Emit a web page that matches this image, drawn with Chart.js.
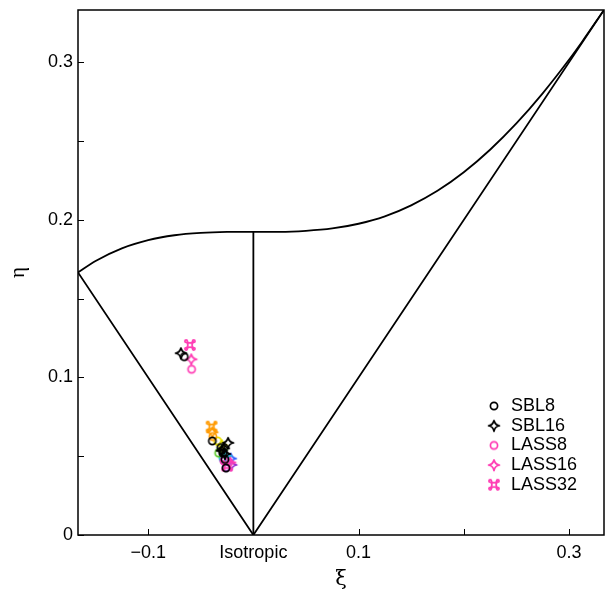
<!DOCTYPE html>
<html>
<head>
<meta charset="utf-8">
<script src="https://cdn.jsdelivr.net/npm/chart.js@4/dist/chart.umd.min.js"></script>
<style>
  html, body { margin: 0; padding: 0; background: #fff; }
  #wrap { width: 605px; height: 594px; }
</style>
</head>
<body>
<div id="wrap"><canvas id="lumley" width="605" height="594"></canvas></div>
<script>
// Anisotropy invariant map (xi, eta) with Lumley triangle boundaries.

const xiTicks = [-0.1, 0, 0.1, 0.2, 0.3];
const xiTickLabels = ['\u22120.1', 'Isotropic', '0.1', '', '0.3'];
const etaTicks = [0, 0.05, 0.1, 0.15, 0.2, 0.25, 0.3];
const etaTickLabels = ['0', '', '0.1', '', '0.2', '', '0.3'];

// two-component limit curve
const limitXi = [-0.1667, -0.15, -0.125, -0.1, -0.075, -0.05, -0.025, 0, 0.025, 0.05, 0.075,
  0.1, 0.125, 0.15, 0.175, 0.2, 0.225, 0.25, 0.275, 0.3, 0.3125, 0.3333];
const limitEta = [0.1667, 0.1740, 0.1820, 0.1872, 0.1903, 0.1918, 0.1924, 0.1925, 0.1925, 0.1931, 0.1946,
  0.1976, 0.2023, 0.2093, 0.2185, 0.2303, 0.2446, 0.2613, 0.2804, 0.3017, 0.3132, 0.3333];
// axisymmetric contraction / expansion edges
const axiXi = [-0.1667, 0, 0.3333];
const axiEta = [0.1667, 0, 0.3333];
// isotropic point up to the two-component limit
const isoXi = [0, 0];
const isoEta = [0, 0.1925];

// legend cases
const sbl8Xi = [-0.0657, -0.0390, -0.0310, -0.0290, -0.0270, -0.0260];
const sbl8Eta = [0.1132, 0.0597, 0.0555, 0.0520, 0.0480, 0.0425];
const sbl16Xi = [-0.0689, -0.0240, -0.0280, -0.0270, -0.0300];
const sbl16Eta = [0.1154, 0.0585, 0.0550, 0.0515, 0.0535];
const lass8Xi = [-0.0587, -0.0280];
const lass8Eta = [0.1052, 0.0470];
const lass16Xi = [-0.0590, -0.0220];
const lass16Eta = [0.1115, 0.0460];
const lass32Xi = [-0.0603, -0.0250];
const lass32Eta = [0.1206, 0.0440];

// extra levels (not in legend)
const orangeXi = [-0.0397, -0.0390, -0.0385];
const orangeEta = [0.0688, 0.0652, 0.0625];
const orangeMarks = ['cross', 'star', 'circle'];
const yellowXi = [-0.0340, -0.0300];
const yellowEta = [0.0597, 0.0570];
const greenXi = [-0.0330, -0.0300];
const greenEta = [0.0520, 0.0540];
const cyanXi = [-0.0290, -0.0260];
const cyanEta = [0.0490, 0.0500];
const blueXi = [-0.0280, -0.0215];
const blueEta = [0.0475, 0.0485];
const purpleXi = [-0.0260, -0.0210];
const purpleEta = [0.0430, 0.0445];
const pairMarks = ['circle', 'star'];

const PINK = '#ff3cb4';
const SANS = '"Liberation Sans", Arial, Helvetica, sans-serif';

function makeSprite(shape, color) {
  const S = 18, m = S / 2;
  const c = document.createElement('canvas');
  c.width = c.height = S;
  const g = c.getContext('2d');
  g.strokeStyle = color;
  g.lineWidth = 1.7;
  g.lineJoin = 'round';
  g.beginPath();
  if (shape === 'circle') {
    g.arc(m, m, 3.6, 0, 2 * Math.PI);
  } else if (shape === 'star') {
    const r = 5.5, k = 0.8;
    g.moveTo(m, m - r);
    g.quadraticCurveTo(m + k, m - k, m + r, m);
    g.quadraticCurveTo(m + k, m + k, m, m + r);
    g.quadraticCurveTo(m - k, m + k, m - r, m);
    g.quadraticCurveTo(m - k, m - k, m, m - r);
  } else {
    const s = 3.2;
    g.moveTo(m - s, m - s);
    g.quadraticCurveTo(m, m - 1, m + s, m - s);
    g.quadraticCurveTo(m + 1, m, m + s, m + s);
    g.quadraticCurveTo(m, m + 1, m - s, m + s);
    g.quadraticCurveTo(m - 1, m, m - s, m - s);
    g.stroke();
    g.beginPath();
    [[-1, -1], [1, -1], [1, 1], [-1, 1]].forEach(([dx, dy]) => {
      g.moveTo(m + dx * (s + 0.6) + 1.3, m + dy * (s + 0.6));
      g.arc(m + dx * (s + 0.6), m + dy * (s + 0.6), 1.3, 0, 2 * Math.PI);
    });
  }
  g.stroke();
  return c;
}

function pts(xs, ys) {
  return xs.map((x, i) => ({ x, y: ys[i] }));
}

function markerSet(label, xs, ys, shape, color, inLegend) {
  const shapes = Array.isArray(shape) ? shape : xs.map(() => shape);
  return {
    label,
    data: pts(xs, ys),
    showLine: false,
    pointStyle: shapes.map((s) => makeSprite(s, color)),
    legendSprite: makeSprite(shapes[0], color),
    inLegend,
    pointRadius: 5
  };
}

function lineSet(label, xs, ys, smooth) {
  return {
    label,
    data: pts(xs, ys),
    showLine: true,
    borderColor: '#000',
    borderWidth: 1.8,
    pointRadius: 0,
    cubicInterpolationMode: smooth ? 'monotone' : 'default',
    inLegend: false
  };
}

const datasets = [
  markerSet('SBL8', sbl8Xi, sbl8Eta, 'circle', '#000', true),
  markerSet('SBL16', sbl16Xi, sbl16Eta, 'star', '#000', true),
  markerSet('LASS8', lass8Xi, lass8Eta, 'circle', PINK, true),
  markerSet('LASS16', lass16Xi, lass16Eta, 'star', PINK, true),
  markerSet('LASS32', lass32Xi, lass32Eta, 'cross', PINK, true),
  markerSet('orange', orangeXi, orangeEta, orangeMarks, '#ff9a00', false),
  markerSet('yellow', yellowXi, yellowEta, pairMarks, '#e8e000', false),
  markerSet('green', greenXi, greenEta, pairMarks, '#5ccc2a', false),
  markerSet('cyan', cyanXi, cyanEta, pairMarks, '#22c4d8', false),
  markerSet('blue', blueXi, blueEta, pairMarks, '#3060ff', false),
  markerSet('purple', purpleXi, purpleEta, pairMarks, '#9a2fd0', false),
  lineSet('limit', limitXi, limitEta, true),
  lineSet('axi', axiXi, axiEta, false),
  lineSet('iso', isoXi, isoEta, false)
];

// box frame, inward ticks and the inset legend
const framePlugin = {
  id: 'frame',
  afterDatasetsDraw(chart) {
    const { ctx, chartArea: a, scales } = chart;
    ctx.save();
    ctx.strokeStyle = '#000';
    ctx.lineWidth = 1.5;
    ctx.strokeRect(a.left, a.top, a.right - a.left, a.bottom - a.top);
    ctx.beginPath();
    xiTicks.forEach((v) => {
      const px = Math.round(scales.x.getPixelForValue(v)) + 0.5;
      ctx.moveTo(px, a.bottom);
      ctx.lineTo(px, a.bottom - 6);
    });
    etaTicks.forEach((v) => {
      const py = Math.round(scales.y.getPixelForValue(v)) + 0.5;
      ctx.moveTo(a.left, py);
      ctx.lineTo(a.left + 6, py);
    });
    ctx.lineWidth = 1;
    ctx.stroke();

    ctx.font = '18px ' + SANS;
    ctx.fillStyle = '#000';
    ctx.textBaseline = 'middle';
    let y = 406;
    chart.data.datasets.filter((d) => d.inLegend).forEach((d) => {
      const s = d.legendSprite;
      ctx.drawImage(s, 494 - s.width / 2, y - s.height / 2);
      ctx.fillText(d.label, 511, y);
      y += 19.7;
    });
    ctx.restore();
  }
};

new Chart(document.getElementById('lumley'), {
  type: 'scatter',
  data: { datasets },
  options: {
    responsive: false,
    animation: false,
    layout: { autoPadding: false, padding: { top: 10, right: 1, left: 0, bottom: 0 } },
    plugins: { legend: { display: false }, tooltip: { enabled: false } },
    scales: {
      x: {
        type: 'linear',
        min: -0.1667,
        max: 0.3333,
        afterFit: (s) => {
          s.height = 59;
          s.paddingLeft = 0;
          s.paddingRight = 0;
        },
        afterBuildTicks: (s) => { s.ticks = xiTicks.map((value) => ({ value })); },
        grid: { display: false, drawTicks: false },
        border: { display: false },
        ticks: {
          color: '#000',
          padding: 7,
          maxRotation: 0,
          autoSkip: false,
          font: { family: SANS, size: 18 },
          callback: (v, i) => xiTickLabels[i]
        },
        title: {
          display: true,
          text: '\u03be',
          color: '#000',
          font: { family: '"DejaVu Serif", serif', size: 21 },
          padding: { top: 0, bottom: 2 }
        }
      },
      y: {
        type: 'linear',
        min: 0,
        max: 0.3333,
        afterFit: (s) => {
          s.width = 78;
          s.paddingTop = 0;
          s.paddingBottom = 0;
        },
        afterBuildTicks: (s) => { s.ticks = etaTicks.map((value) => ({ value })); },
        grid: { display: false, drawTicks: false },
        border: { display: false },
        ticks: {
          color: '#000',
          padding: 5,
          autoSkip: false,
          font: { family: SANS, size: 18 },
          callback: (v, i) => etaTickLabels[i]
        },
        title: {
          display: true,
          text: '\u03b7',
          color: '#000',
          font: { family: '"Liberation Serif", serif', size: 21 },
          padding: { top: 6, bottom: 0 }
        }
      }
    }
  },
  plugins: [framePlugin]
});
</script>
</body>
</html>
